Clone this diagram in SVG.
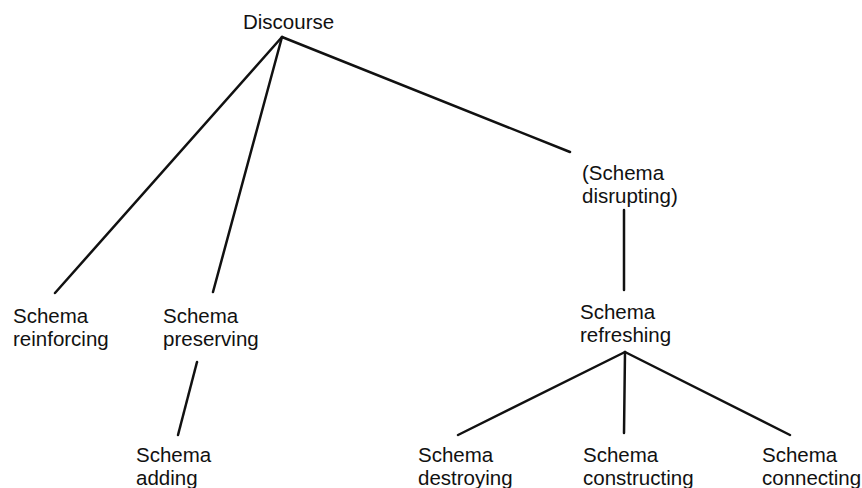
<svg xmlns="http://www.w3.org/2000/svg" width="862" height="488" viewBox="0 0 862 488">
<style>
text { font-family: "Liberation Sans", Arial, sans-serif; font-size: 20.5px; fill: #111; }
.c line { stroke: #111; stroke-width: 2.5; stroke-linecap: round; }
</style>
<rect width="862" height="488" fill="#fff"/>
<g class="c" id="connectors">
<line x1="282" y1="37" x2="55" y2="293"/>
<line x1="282" y1="37" x2="213" y2="292"/>
<line x1="282" y1="37" x2="570" y2="152"/>
<line x1="197" y1="362" x2="178" y2="435"/>
<line x1="624" y1="210" x2="624" y2="290"/>
<line x1="625" y1="352" x2="458" y2="435"/>
<line x1="625" y1="352" x2="624" y2="433"/>
<line x1="625" y1="352" x2="790" y2="435"/>
</g>
<g id="discourse"><text x="243" y="29">Discourse</text></g>
<g id="reinforcing"><text x="13" y="323">Schema</text><text x="13" y="346">reinforcing</text></g>
<g id="preserving"><text x="163" y="323">Schema</text><text x="163" y="346">preserving</text></g>
<g id="disrupting"><text x="582" y="180">(Schema</text><text x="582" y="203">disrupting)</text></g>
<g id="refreshing"><text x="580" y="319">Schema</text><text x="580" y="342">refreshing</text></g>
<g id="adding"><text x="136" y="462">Schema</text><text x="136" y="485">adding</text></g>
<g id="destroying"><text x="418" y="462">Schema</text><text x="418" y="485">destroying</text></g>
<g id="constructing"><text x="583" y="462">Schema</text><text x="583" y="485">constructing</text></g>
<g id="connecting"><text x="762" y="462">Schema</text><text x="762" y="485">connecting</text></g>
</svg>
